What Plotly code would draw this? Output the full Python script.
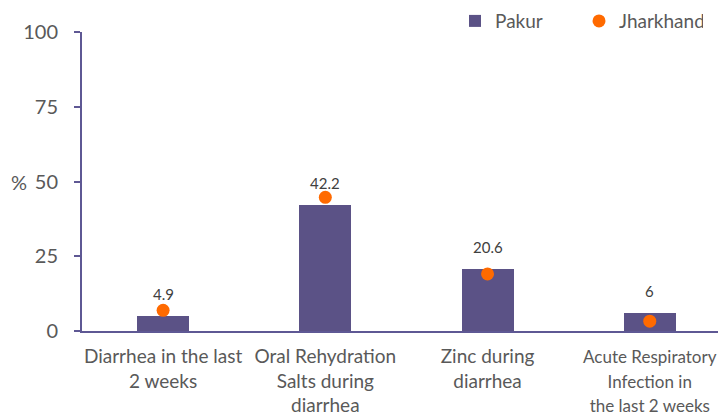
import plotly.graph_objects as go

categories = ["Diarrhea in the last<br>2 weeks", "Oral Rehydration<br>Salts during<br>diarrhea",
              "Zinc during<br>diarrhea", "Acute Respiratory<br>Infection in<br>the last 2 weeks"]
pakur = [4.9, 42.2, 20.6, 6]
jharkhand = [6.9, 44.7, 19.1, 3.3]
pakur_labels = ["4.9", "42.2", "20.6", "6"]
y_ticks = [0, 25, 50, 75, 100]

FONT = "Lato, Carlito, 'Open Sans', sans-serif"
BAR = "#5b5286"
ORANGE = "#ff6a00"
AXIS = "#5e5894"
GRAY = "#595959"

xs = list(range(len(categories)))
# the right-most label sits against the window edge; render it a touch smaller so it fits
tick_text = categories[:-1] + ["<span style='font-size:17px'>" + categories[-1] + "</span>"]

fig = go.Figure()
fig.add_trace(go.Bar(x=xs, y=pakur, name="Pakur", marker=dict(color=BAR, line=dict(width=0)),
                     width=0.32))
fig.add_trace(go.Scatter(x=xs, y=jharkhand, name="Jharkhand", mode="markers",
                         marker=dict(color=ORANGE, size=13)))

for x, v, t in zip(xs, pakur, pakur_labels):
    fig.add_annotation(x=x, y=v, text=t, showarrow=False, yanchor="bottom", yshift=11,
                       font=dict(family=FONT, size=15, color="#404040"))

fig.add_annotation(xref="paper", yref="y", x=0, y=50, xanchor="right", xshift=-53,
                   text="%", showarrow=False, font=dict(family=FONT, size=20, color=GRAY))

fig.update_layout(
    width=718, height=408,
    margin=dict(l=74, r=0, t=24, b=85, autoexpand=False),
    paper_bgcolor="white", plot_bgcolor="white",
    font=dict(family=FONT, color=GRAY),
    showlegend=True,
    legend=dict(orientation="h", xref="container", yref="container", x=0.6226, y=0.968,
                xanchor="left", yanchor="middle",
                font=dict(family=FONT, size=19, color=GRAY), itemwidth=30,
                tracegroupgap=0, entrywidthmode="pixels", entrywidth=79,
                bgcolor="rgba(0,0,0,0)"),
    xaxis=dict(range=[-0.5, 3.47], tickmode="array", tickvals=xs, ticktext=tick_text,
               showline=True, linecolor=AXIS, linewidth=2, ticks="", showgrid=False,
               automargin=False, ticklabelstandoff=7,
               tickfont=dict(family=FONT, size=19, color=GRAY), zeroline=False),
    yaxis=dict(range=[0, 100], tickmode="array", tickvals=y_ticks, showline=True,
               linecolor=AXIS, linewidth=2, ticks="outside", ticklen=6, tickcolor=AXIS,
               tickwidth=2, showgrid=False, zeroline=False, automargin=False,
               ticklabelstandoff=12,
               tickfont=dict(family=FONT, size=20, color=GRAY)),
    bargap=0,
)

fig.write_html("out.html")
